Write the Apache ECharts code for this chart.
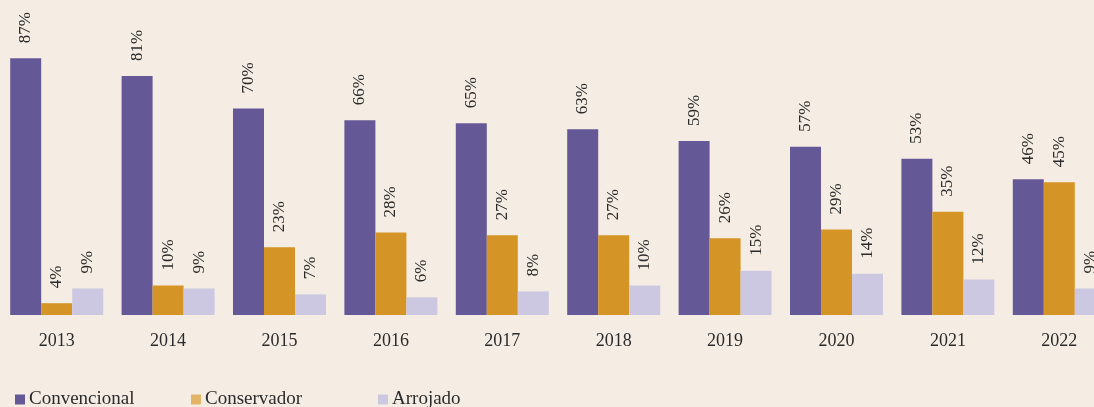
<!DOCTYPE html>
<html>
<head>
<meta charset="utf-8">
<script src="https://cdn.jsdelivr.net/npm/echarts@6/dist/echarts.min.js"></script>
<style>
html,body{margin:0;padding:0;background:#f5ede4;}
#chart{width:1094px;height:407px;}
</style>
</head>
<body>
<div id="chart"></div>
<script>
const years = ['2013','2014','2015','2016','2017','2018','2019','2020','2021','2022'];
const convencional = [87,81,70,66,65,63,59,57,53,46];
const conservador = [4,10,23,28,27,27,26,29,35,45];
const arrojado = [9,9,7,6,8,10,15,14,12,9];
const seriesNames = ['Convencional','Conservador','Arrojado'];
const colors = ['#655896','#d49526','#cdc8e1'];
const legendColors = ['#655896','#e3b468','#cdc8e1'];

const font = '"Liberation Serif", "DejaVu Serif", serif';
const textColor = '#2b2b2b';

const chart = echarts.init(document.getElementById('chart'), null, {renderer:'canvas'});
const dataSets = [convencional, conservador, arrojado];
const legendLeft = [10, 186, 373];

chart.setOption({
  backgroundColor: '#f5ede4',
  animation: false,
  grid: {left: 1, top: 20, width: 1114, height: 295, containLabel: false, outerBoundsMode: 'none'},
  xAxis: {
    type: 'category',
    data: years,
    axisLine: {show: false},
    axisTick: {show: false},
    axisLabel: {margin: 17, fontSize: 18, fontFamily: font, color: textColor}
  },
  yAxis: {type: 'value', min: 0, max: 100, show: false, splitLine: {show: false}},
  legend: seriesNames.map((n, i) => ({
    left: legendLeft[i], top: 385,
    icon: 'rect', itemWidth: 10, itemHeight: 10, itemGap: 6,
    textStyle: {fontSize: 19, fontFamily: font, color: textColor, padding: [0,0,0,-1]},
    data: [{name: n, itemStyle: {color: legendColors[i]}}]
  })),
  series: seriesNames.map((n, i) => ({
    name: n,
    type: 'bar',
    data: dataSets[i],
    barWidth: 31,
    barGap: '0%',
    itemStyle: {color: colors[i]},
    label: {
      show: true,
      position: 'top',
      rotate: 90,
      align: 'left',
      verticalAlign: 'middle',
      distance: 15,
      formatter: '{c}%',
      fontSize: 17,
      fontFamily: font,
      color: textColor
    }
  }))
});
</script>
</body>
</html>
